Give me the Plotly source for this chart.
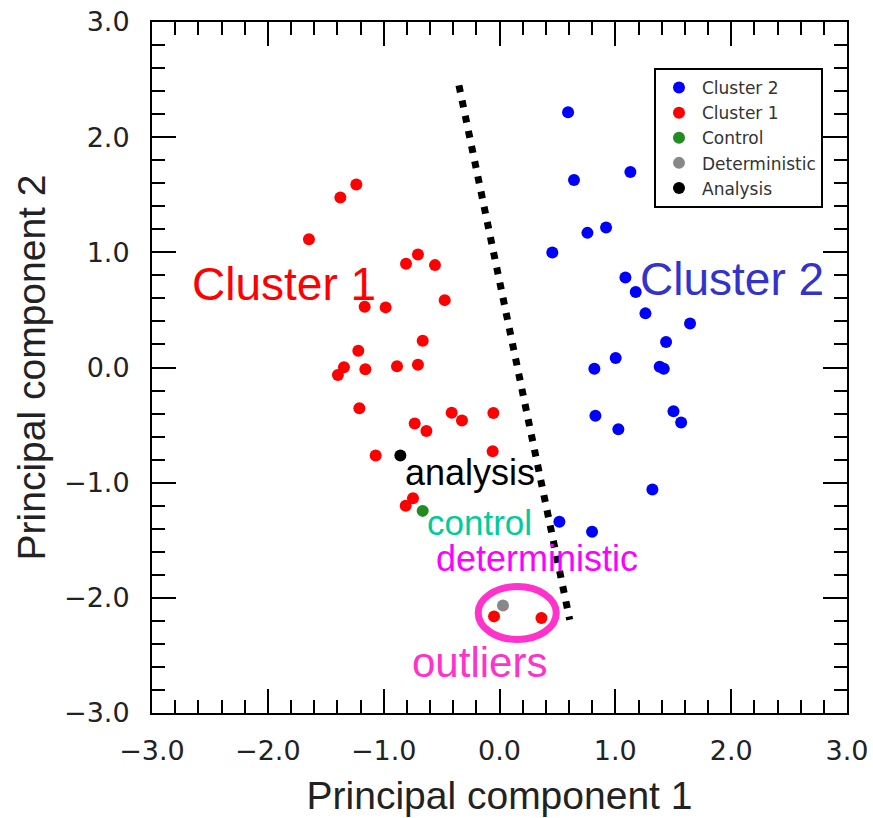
import plotly.graph_objects as go

# ---------------- data ----------------
cluster1_x = [-1.236, -1.374, -1.645, -0.704, -0.807, -0.557, -0.473, -1.164, -0.983,
              -0.663, -1.219, -1.343, -1.395, -1.158, -0.885, -0.704, -1.210, -0.413,
              -0.324, -0.053, -0.732, -0.631, -0.059, -1.069, -0.747, -0.810,
              -0.047, 0.362]
cluster1_y = [1.589, 1.476, 1.114, 0.982, 0.900, 0.889, 0.585, 0.527, 0.522,
              0.233, 0.146, 0.002, -0.065, -0.016, 0.010, 0.024, -0.354, -0.392,
              -0.461, -0.395, -0.487, -0.551, -0.727, -0.765, -1.135, -1.201,
              -2.161, -2.175]

cluster2_x = [0.592, 0.643, 1.130, 0.920, 0.759, 0.456, 1.087, 1.176, 1.260, 1.645,
              1.438, 1.003, 0.819, 1.383, 1.418, 0.828, 1.026, 1.502, 1.568, 1.320,
              0.517, 0.799]
cluster2_y = [2.216, 1.629, 1.698, 1.216, 1.169, 0.999, 0.782, 0.655, 0.470, 0.383,
              0.221, 0.082, -0.010, 0.007, -0.010, -0.418, -0.536, -0.380, -0.478, -1.060,
              -1.340, -1.427]

control_x = [-0.663]
control_y = [-1.245]
deterministic_x = [0.030]
deterministic_y = [-2.066]
analysis_x = [-0.856]
analysis_y = [-0.765]

# dividing dotted line (end points in data units)
divider_x = [-0.350, 0.606]
divider_y = [2.450, -2.190]

# outlier ellipse (data units)
ellipse_x = [-0.184, 0.490]
ellipse_y = [-2.362, -1.902]

axis_ticks = [-3, -2, -1, 0, 1, 2, 3]
axis_ticktext = ["\u22123.0", "\u22122.0", "\u22121.0", "0.0", "1.0", "2.0", "3.0"]

# ---------------- figure ----------------
FONT = "Liberation Sans, Arial, Helvetica, sans-serif"
TICKFONT = "DejaVu Sans, sans-serif"
MS = 12

fig = go.Figure()

fig.add_trace(go.Scatter(x=divider_x, y=divider_y, mode="lines", showlegend=False,
                         hoverinfo="skip",
                         line=dict(color="black", width=7, dash="7px,8.5px")))

def pts(name, xs, ys, color):
    fig.add_trace(go.Scatter(x=xs, y=ys, mode="markers", name=name,
                             marker=dict(color=color, size=MS, line=dict(width=0))))

pts("Cluster 2", cluster2_x, cluster2_y, "#0000ff")
pts("Cluster 1", cluster1_x, cluster1_y, "#ff0000")
pts("Control", control_x, control_y, "#228b22")
pts("Deterministic", deterministic_x, deterministic_y, "#888888")
pts("Analysis", analysis_x, analysis_y, "#000000")

fig.add_shape(type="circle", xref="x", yref="y",
              x0=ellipse_x[0], x1=ellipse_x[1], y0=ellipse_y[0], y1=ellipse_y[1],
              line=dict(color="#ff33cc", width=7), layer="above")

labels = [
    ("Cluster 1", -1.857, 0.729, "#ff0000", 46),
    ("Cluster 2", 2.005, 0.768, "#3333cc", 46),
    ("analysis", -0.253, -0.915, "#000000", 36),
    ("control", -0.171, -1.349, "#00cc99", 35),
    ("deterministic", 0.321, -1.661, "#ff00ff", 36),
    ("outliers", -0.171, -2.563, "#ff33cc", 42),
]
for text, x, y, color, size in labels:
    fig.add_annotation(x=x, y=y, xref="x", yref="y", text=text, showarrow=False,
                       xanchor="center", yanchor="middle",
                       font=dict(family=FONT, size=size, color=color))

axis_common = dict(
    range=[-3, 3], tickmode="array", tickvals=axis_ticks, ticktext=axis_ticktext,
    ticks="inside", ticklen=24, tickwidth=2, tickcolor="black",
    minor=dict(dtick=0.2, ticks="inside", ticklen=13, tickwidth=2, tickcolor="black", showgrid=False),
    showline=True, linewidth=2, linecolor="black", mirror="ticks",
    showgrid=False, zeroline=False, automargin=False, ticklabeloverflow="allow",
    tickfont=dict(family=TICKFONT, size=27, color="#222222"),
)

fig.update_xaxes(**axis_common, ticklabelstandoff=13,
                 title=dict(text="Principal component 1", standoff=16,
                            font=dict(family=FONT, size=39, color="#222222")))
fig.update_yaxes(**axis_common, ticklabelstandoff=15,
                 title=dict(text="Principal component 2", standoff=6,
                            font=dict(family=FONT, size=39, color="#222222")))

fig.update_layout(
    width=873, height=818,
    margin=dict(l=152, r=26, t=22, b=105),
    plot_bgcolor="white", paper_bgcolor="white",
    legend=dict(x=0.7223, y=0.9334, xanchor="left", yanchor="top",
                bordercolor="black", borderwidth=2, bgcolor="white",
                font=dict(family=TICKFONT, size=17, color="#333333"),
                itemwidth=36, tracegroupgap=0),
)

fig.write_html("out.html", config={"displayModeBar": False},
               post_script="document.body.style.margin='0';document.body.style.overflow='hidden';")
